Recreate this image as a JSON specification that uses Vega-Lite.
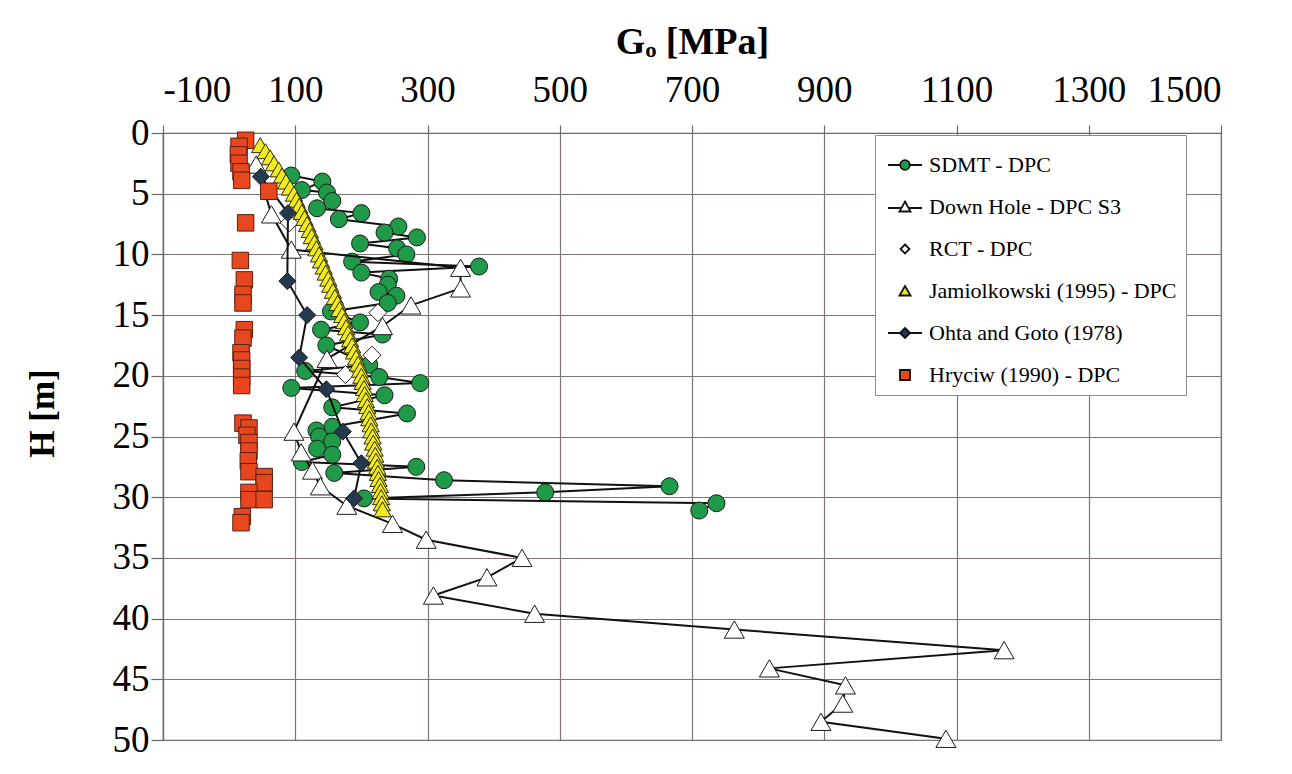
{
  "$schema": "https://vega.github.io/schema/vega-lite/v6.json",
  "width": 1058,
  "height": 607,
  "autosize": "none",
  "padding": {"left": 163, "top": 133, "right": 71, "bottom": 34},
  "background": "white",
  "config": {
    "font": "Liberation Serif",
    "view": {"stroke": "#6f6666", "strokeWidth": 1.2},
    "legend": {"labelFont": "Liberation Serif", "labelFontSize": 22, "labelColor": "black"},
    "axis": {
      "labelFont": "Liberation Serif",
      "labelColor": "black",
      "titleFont": "Liberation Serif",
      "titleColor": "black",
      "titleFontWeight": "bold",
      "gridColor": "#7f7474",
      "gridWidth": 1.2,
      "gridOpacity": 1,
      "tickColor": "#6f6666",
      "domainColor": "#6f6666",
      "tickWidth": 1.2,
      "domainWidth": 1.2
    }
  },
  "data": {
    "values": [
      {"s": "SDMT - DPC", "H": 3.5, "G": 94},
      {"s": "SDMT - DPC", "H": 4.0, "G": 141},
      {"s": "SDMT - DPC", "H": 4.7, "G": 110},
      {"s": "SDMT - DPC", "H": 4.9, "G": 148},
      {"s": "SDMT - DPC", "H": 5.6, "G": 156},
      {"s": "SDMT - DPC", "H": 6.2, "G": 133},
      {"s": "SDMT - DPC", "H": 6.6, "G": 200},
      {"s": "SDMT - DPC", "H": 7.1, "G": 166},
      {"s": "SDMT - DPC", "H": 7.7, "G": 256},
      {"s": "SDMT - DPC", "H": 8.2, "G": 235},
      {"s": "SDMT - DPC", "H": 8.6, "G": 284},
      {"s": "SDMT - DPC", "H": 9.1, "G": 198},
      {"s": "SDMT - DPC", "H": 9.5, "G": 254},
      {"s": "SDMT - DPC", "H": 10.0, "G": 268},
      {"s": "SDMT - DPC", "H": 10.6, "G": 186},
      {"s": "SDMT - DPC", "H": 11.0, "G": 378},
      {"s": "SDMT - DPC", "H": 11.5, "G": 200},
      {"s": "SDMT - DPC", "H": 12.0, "G": 242},
      {"s": "SDMT - DPC", "H": 12.5, "G": 240},
      {"s": "SDMT - DPC", "H": 13.1, "G": 226},
      {"s": "SDMT - DPC", "H": 13.4, "G": 253},
      {"s": "SDMT - DPC", "H": 14.0, "G": 240},
      {"s": "SDMT - DPC", "H": 14.7, "G": 154},
      {"s": "SDMT - DPC", "H": 15.6, "G": 198},
      {"s": "SDMT - DPC", "H": 16.2, "G": 139},
      {"s": "SDMT - DPC", "H": 16.6, "G": 232},
      {"s": "SDMT - DPC", "H": 17.5, "G": 147},
      {"s": "SDMT - DPC", "H": 19.1, "G": 212},
      {"s": "SDMT - DPC", "H": 19.6, "G": 115},
      {"s": "SDMT - DPC", "H": 20.1, "G": 227},
      {"s": "SDMT - DPC", "H": 20.6, "G": 289},
      {"s": "SDMT - DPC", "H": 21.0, "G": 94},
      {"s": "SDMT - DPC", "H": 21.6, "G": 235},
      {"s": "SDMT - DPC", "H": 22.6, "G": 156},
      {"s": "SDMT - DPC", "H": 23.1, "G": 269},
      {"s": "SDMT - DPC", "H": 24.2, "G": 156},
      {"s": "SDMT - DPC", "H": 24.5, "G": 132},
      {"s": "SDMT - DPC", "H": 25.0, "G": 136},
      {"s": "SDMT - DPC", "H": 25.4, "G": 156},
      {"s": "SDMT - DPC", "H": 26.0, "G": 133},
      {"s": "SDMT - DPC", "H": 26.5, "G": 156},
      {"s": "SDMT - DPC", "H": 27.1, "G": 110},
      {"s": "SDMT - DPC", "H": 27.5, "G": 283},
      {"s": "SDMT - DPC", "H": 28.0, "G": 159},
      {"s": "SDMT - DPC", "H": 28.6, "G": 325},
      {"s": "SDMT - DPC", "H": 29.1, "G": 666},
      {"s": "SDMT - DPC", "H": 29.6, "G": 478},
      {"s": "SDMT - DPC", "H": 30.1, "G": 204},
      {"s": "SDMT - DPC", "H": 30.5, "G": 737},
      {"s": "SDMT - DPC", "H": 31.1, "G": 711},

      {"s": "Down Hole - DPC S3", "H": 2.6, "G": 41},
      {"s": "Down Hole - DPC S3", "H": 6.7, "G": 64},
      {"s": "Down Hole - DPC S3", "H": 9.6, "G": 94},
      {"s": "Down Hole - DPC S3", "H": 11.1, "G": 350},
      {"s": "Down Hole - DPC S3", "H": 12.8, "G": 350},
      {"s": "Down Hole - DPC S3", "H": 14.2, "G": 275},
      {"s": "Down Hole - DPC S3", "H": 15.9, "G": 232},
      {"s": "Down Hole - DPC S3", "H": 18.6, "G": 148},
      {"s": "Down Hole - DPC S3", "H": 24.6, "G": 98},
      {"s": "Down Hole - DPC S3", "H": 26.3, "G": 109},
      {"s": "Down Hole - DPC S3", "H": 27.8, "G": 126},
      {"s": "Down Hole - DPC S3", "H": 29.1, "G": 138},
      {"s": "Down Hole - DPC S3", "H": 30.7, "G": 178},
      {"s": "Down Hole - DPC S3", "H": 32.2, "G": 247},
      {"s": "Down Hole - DPC S3", "H": 33.5, "G": 298},
      {"s": "Down Hole - DPC S3", "H": 35.0, "G": 443},
      {"s": "Down Hole - DPC S3", "H": 36.6, "G": 390},
      {"s": "Down Hole - DPC S3", "H": 38.1, "G": 309},
      {"s": "Down Hole - DPC S3", "H": 39.6, "G": 462},
      {"s": "Down Hole - DPC S3", "H": 40.9, "G": 764},
      {"s": "Down Hole - DPC S3", "H": 42.6, "G": 1172},
      {"s": "Down Hole - DPC S3", "H": 44.1, "G": 817},
      {"s": "Down Hole - DPC S3", "H": 45.5, "G": 932},
      {"s": "Down Hole - DPC S3", "H": 47.0, "G": 928},
      {"s": "Down Hole - DPC S3", "H": 48.5, "G": 895},
      {"s": "Down Hole - DPC S3", "H": 49.9, "G": 1084},

      {"s": "RCT - DPC", "H": 7.4, "G": 91},
      {"s": "RCT - DPC", "H": 14.8, "G": 225},
      {"s": "RCT - DPC", "H": 18.3, "G": 216},
      {"s": "RCT - DPC", "H": 19.9, "G": 176},

      {"s": "Jamiolkowski (1995) - DPC", "H": 1.0, "G": 47},
      {"s": "Jamiolkowski (1995) - DPC", "H": 1.5, "G": 55},
      {"s": "Jamiolkowski (1995) - DPC", "H": 2.0, "G": 62},
      {"s": "Jamiolkowski (1995) - DPC", "H": 2.5, "G": 68},
      {"s": "Jamiolkowski (1995) - DPC", "H": 3.0, "G": 75},
      {"s": "Jamiolkowski (1995) - DPC", "H": 3.5, "G": 80},
      {"s": "Jamiolkowski (1995) - DPC", "H": 4.0, "G": 86},
      {"s": "Jamiolkowski (1995) - DPC", "H": 4.5, "G": 92},
      {"s": "Jamiolkowski (1995) - DPC", "H": 5.0, "G": 98},
      {"s": "Jamiolkowski (1995) - DPC", "H": 5.5, "G": 102},
      {"s": "Jamiolkowski (1995) - DPC", "H": 6.0, "G": 106},
      {"s": "Jamiolkowski (1995) - DPC", "H": 6.5, "G": 110},
      {"s": "Jamiolkowski (1995) - DPC", "H": 7.0, "G": 114},
      {"s": "Jamiolkowski (1995) - DPC", "H": 7.5, "G": 118},
      {"s": "Jamiolkowski (1995) - DPC", "H": 8.0, "G": 122},
      {"s": "Jamiolkowski (1995) - DPC", "H": 8.5, "G": 125},
      {"s": "Jamiolkowski (1995) - DPC", "H": 9.0, "G": 129},
      {"s": "Jamiolkowski (1995) - DPC", "H": 9.5, "G": 132},
      {"s": "Jamiolkowski (1995) - DPC", "H": 10.0, "G": 136},
      {"s": "Jamiolkowski (1995) - DPC", "H": 10.5, "G": 139},
      {"s": "Jamiolkowski (1995) - DPC", "H": 11.0, "G": 143},
      {"s": "Jamiolkowski (1995) - DPC", "H": 11.5, "G": 146},
      {"s": "Jamiolkowski (1995) - DPC", "H": 12.0, "G": 150},
      {"s": "Jamiolkowski (1995) - DPC", "H": 12.5, "G": 153},
      {"s": "Jamiolkowski (1995) - DPC", "H": 13.0, "G": 157},
      {"s": "Jamiolkowski (1995) - DPC", "H": 13.5, "G": 160},
      {"s": "Jamiolkowski (1995) - DPC", "H": 14.0, "G": 164},
      {"s": "Jamiolkowski (1995) - DPC", "H": 14.5, "G": 167},
      {"s": "Jamiolkowski (1995) - DPC", "H": 15.0, "G": 171},
      {"s": "Jamiolkowski (1995) - DPC", "H": 15.5, "G": 174},
      {"s": "Jamiolkowski (1995) - DPC", "H": 16.0, "G": 177},
      {"s": "Jamiolkowski (1995) - DPC", "H": 16.5, "G": 180},
      {"s": "Jamiolkowski (1995) - DPC", "H": 17.0, "G": 183},
      {"s": "Jamiolkowski (1995) - DPC", "H": 17.5, "G": 186},
      {"s": "Jamiolkowski (1995) - DPC", "H": 18.0, "G": 189},
      {"s": "Jamiolkowski (1995) - DPC", "H": 18.5, "G": 192},
      {"s": "Jamiolkowski (1995) - DPC", "H": 19.0, "G": 195},
      {"s": "Jamiolkowski (1995) - DPC", "H": 19.5, "G": 198},
      {"s": "Jamiolkowski (1995) - DPC", "H": 20.0, "G": 200},
      {"s": "Jamiolkowski (1995) - DPC", "H": 20.5, "G": 202},
      {"s": "Jamiolkowski (1995) - DPC", "H": 21.0, "G": 204},
      {"s": "Jamiolkowski (1995) - DPC", "H": 21.5, "G": 205},
      {"s": "Jamiolkowski (1995) - DPC", "H": 22.0, "G": 207},
      {"s": "Jamiolkowski (1995) - DPC", "H": 22.5, "G": 209},
      {"s": "Jamiolkowski (1995) - DPC", "H": 23.0, "G": 211},
      {"s": "Jamiolkowski (1995) - DPC", "H": 23.5, "G": 212},
      {"s": "Jamiolkowski (1995) - DPC", "H": 24.0, "G": 214},
      {"s": "Jamiolkowski (1995) - DPC", "H": 24.5, "G": 215},
      {"s": "Jamiolkowski (1995) - DPC", "H": 25.0, "G": 217},
      {"s": "Jamiolkowski (1995) - DPC", "H": 25.5, "G": 218},
      {"s": "Jamiolkowski (1995) - DPC", "H": 26.0, "G": 220},
      {"s": "Jamiolkowski (1995) - DPC", "H": 26.5, "G": 221},
      {"s": "Jamiolkowski (1995) - DPC", "H": 27.0, "G": 222},
      {"s": "Jamiolkowski (1995) - DPC", "H": 27.5, "G": 224},
      {"s": "Jamiolkowski (1995) - DPC", "H": 28.0, "G": 225},
      {"s": "Jamiolkowski (1995) - DPC", "H": 28.5, "G": 226},
      {"s": "Jamiolkowski (1995) - DPC", "H": 29.0, "G": 228},
      {"s": "Jamiolkowski (1995) - DPC", "H": 29.5, "G": 229},
      {"s": "Jamiolkowski (1995) - DPC", "H": 30.0, "G": 230},
      {"s": "Jamiolkowski (1995) - DPC", "H": 30.5, "G": 231},
      {"s": "Jamiolkowski (1995) - DPC", "H": 31.0, "G": 232},

      {"s": "Ohta and Goto (1978)", "H": 3.6, "G": 48},
      {"s": "Ohta and Goto (1978)", "H": 6.6, "G": 89},
      {"s": "Ohta and Goto (1978)", "H": 12.2, "G": 88},
      {"s": "Ohta and Goto (1978)", "H": 15.0, "G": 118},
      {"s": "Ohta and Goto (1978)", "H": 18.5, "G": 106},
      {"s": "Ohta and Goto (1978)", "H": 21.1, "G": 147},
      {"s": "Ohta and Goto (1978)", "H": 24.6, "G": 172},
      {"s": "Ohta and Goto (1978)", "H": 27.2, "G": 200},
      {"s": "Ohta and Goto (1978)", "H": 30.1, "G": 189},

      {"s": "Hryciw (1990) - DPC", "H": 0.6, "G": 25},
      {"s": "Hryciw (1990) - DPC", "H": 1.1, "G": 15},
      {"s": "Hryciw (1990) - DPC", "H": 1.8, "G": 14},
      {"s": "Hryciw (1990) - DPC", "H": 2.5, "G": 15},
      {"s": "Hryciw (1990) - DPC", "H": 3.2, "G": 18},
      {"s": "Hryciw (1990) - DPC", "H": 3.9, "G": 19},
      {"s": "Hryciw (1990) - DPC", "H": 4.8, "G": 60},
      {"s": "Hryciw (1990) - DPC", "H": 7.4, "G": 25},
      {"s": "Hryciw (1990) - DPC", "H": 10.5, "G": 17},
      {"s": "Hryciw (1990) - DPC", "H": 12.1, "G": 23},
      {"s": "Hryciw (1990) - DPC", "H": 13.3, "G": 21},
      {"s": "Hryciw (1990) - DPC", "H": 14.0, "G": 21},
      {"s": "Hryciw (1990) - DPC", "H": 16.2, "G": 23},
      {"s": "Hryciw (1990) - DPC", "H": 16.9, "G": 21},
      {"s": "Hryciw (1990) - DPC", "H": 18.1, "G": 18},
      {"s": "Hryciw (1990) - DPC", "H": 18.7, "G": 19},
      {"s": "Hryciw (1990) - DPC", "H": 19.4, "G": 19},
      {"s": "Hryciw (1990) - DPC", "H": 20.1, "G": 19},
      {"s": "Hryciw (1990) - DPC", "H": 20.8, "G": 19},
      {"s": "Hryciw (1990) - DPC", "H": 23.9, "G": 21},
      {"s": "Hryciw (1990) - DPC", "H": 24.3, "G": 30},
      {"s": "Hryciw (1990) - DPC", "H": 24.9, "G": 27},
      {"s": "Hryciw (1990) - DPC", "H": 25.5, "G": 30},
      {"s": "Hryciw (1990) - DPC", "H": 26.2, "G": 30},
      {"s": "Hryciw (1990) - DPC", "H": 27.0, "G": 29},
      {"s": "Hryciw (1990) - DPC", "H": 27.9, "G": 30},
      {"s": "Hryciw (1990) - DPC", "H": 28.3, "G": 53},
      {"s": "Hryciw (1990) - DPC", "H": 28.8, "G": 53},
      {"s": "Hryciw (1990) - DPC", "H": 29.6, "G": 30},
      {"s": "Hryciw (1990) - DPC", "H": 30.2, "G": 30},
      {"s": "Hryciw (1990) - DPC", "H": 30.2, "G": 53},
      {"s": "Hryciw (1990) - DPC", "H": 31.6, "G": 20},
      {"s": "Hryciw (1990) - DPC", "H": 32.1, "G": 18}
    ]
  },
  "encoding": {
    "x": {
      "field": "G",
      "type": "quantitative",
      "scale": {"domain": [-100, 1500], "nice": false, "zero": false},
      "axis": {
        "orient": "top",
        "title": "Gₒ [MPa]",
        "titleFontSize": 38,
        "titlePadding": 10,
        "values": [-100, 100, 300, 500, 700, 900, 1100, 1300, 1500],
        "labelExpr": "'' + datum.value",
        "labelFontSize": 37,
        "labelPadding": 16,
        "tickSize": 8,
        "grid": true
      }
    },
    "y": {
      "field": "H",
      "type": "quantitative",
      "scale": {"domain": [0, 50], "reverse": true, "nice": false, "zero": false},
      "axis": {
        "title": "H [m]",
        "titleFontSize": 35,
        "titleAngle": 270,
        "titleX": -121,
        "titleY": 280,
        "titleAlign": "center",
        "titleBaseline": "middle",
        "values": [0, 5, 10, 15, 20, 25, 30, 35, 40, 45, 50],
        "labelFontSize": 37,
        "labelPadding": 2,
        "tickSize": 12,
        "grid": true
      }
    }
  },
  "layer": [
    {
      "transform": [{"filter": {"field": "s", "equal": "SDMT - DPC"}}],
      "mark": {"type": "line", "color": "#111111", "strokeWidth": 2},
      "encoding": {"order": {"field": "H", "type": "quantitative"}}
    },
    {
      "transform": [{"filter": {"field": "s", "equal": "SDMT - DPC"}}],
      "mark": {"type": "point", "shape": "circle", "size": 289, "filled": true, "opacity": 1, "stroke": "#1c1c1c", "strokeWidth": 1},
      "encoding": {
        "fill": {
          "field": "s",
          "type": "nominal",
          "scale": {
            "domain": ["SDMT - DPC", "Down Hole - DPC S3", "RCT - DPC", "Jamiolkowski (1995) - DPC", "Ohta and Goto (1978)", "Hryciw (1990) - DPC"],
            "range": ["#1f9a48", "#ffffff", "#ffffff", "#f2ea1c", "#243850", "#e8461e"]
          },
          "legend": {
            "title": null,
            "orient": "none",
            "legendX": 712,
            "legendY": 2,
            "fillColor": "white",
            "strokeColor": "#8c8c8c",
            "padding": 9,
            "labelFont": "Liberation Serif",
            "labelFontSize": 22,
            "labelColor": "black",
            "labelLimit": 400,
            "labelOffset": 3,
            "symbolSize": 1600,
            "symbolStrokeColor": "#111111",
            "symbolStrokeWidth": 1.8,
            "symbolOpacity": 1,
            "rowPadding": 10,
            "encode": {
              "labels": {
                "update": {
                  "font": {"value": "Liberation Serif"},
                  "fontSize": {"value": 22},
                  "fill": {"value": "black"}
                }
              },
              "symbols": {
                "update": {
                  "shape": {"signal": "datum.value === 'SDMT - DPC' ? 'M-0.85,0H-0.24M0.24,0H0.85M0.24,0A0.24,0.24,0,1,1,-0.24,0A0.24,0.24,0,1,1,0.24,0Z' : datum.value === 'Down Hole - DPC S3' ? 'M-0.85,0.05H-0.2M0.2,0.05H0.85M0,-0.275L0.275,0.225L-0.275,0.225Z' : datum.value === 'RCT - DPC' ? 'M0,-0.225L0.225,0L0,0.225L-0.225,0Z' : datum.value === 'Jamiolkowski (1995) - DPC' ? 'M0,-0.25L0.275,0.225L-0.275,0.225Z' : datum.value === 'Ohta and Goto (1978)' ? 'M-0.85,0H-0.25M0.25,0H0.85M0,-0.25L0.25,0L0,0.25L-0.25,0Z' : 'M-0.25,-0.25H0.25V0.25H-0.25Z'"},
                  "size": {"value": 1600},
                  "stroke": {"value": "#111111"},
                  "strokeWidth": {"value": 1.8},
                  "opacity": {"value": 1}
                }
              }
            }
          }
        }
      }
    },
    {
      "transform": [{"filter": {"field": "s", "equal": "Down Hole - DPC S3"}}],
      "mark": {"type": "line", "color": "#111111", "strokeWidth": 2},
      "encoding": {"order": {"field": "H", "type": "quantitative"}}
    },
    {
      "transform": [{"filter": {"field": "s", "equal": "Down Hole - DPC S3"}}],
      "mark": {"type": "point", "shape": "triangle-up", "size": 400, "filled": true, "opacity": 1, "stroke": "#1c1c1c", "strokeWidth": 1},
      "encoding": {"fill": {"field": "s", "type": "nominal"}}
    },
    {
      "transform": [{"filter": {"field": "s", "equal": "RCT - DPC"}}],
      "mark": {"type": "point", "shape": "diamond", "size": 324, "filled": true, "opacity": 1, "stroke": "#1c1c1c", "strokeWidth": 1},
      "encoding": {"fill": {"field": "s", "type": "nominal"}}
    },
    {
      "transform": [{"filter": {"field": "s", "equal": "Jamiolkowski (1995) - DPC"}}],
      "mark": {"type": "point", "shape": "triangle-up", "size": 300, "filled": true, "opacity": 1, "stroke": "#2a2a10", "strokeWidth": 1},
      "encoding": {"fill": {"field": "s", "type": "nominal"}}
    },
    {
      "transform": [{"filter": {"field": "s", "equal": "Ohta and Goto (1978)"}}],
      "mark": {"type": "line", "color": "#111111", "strokeWidth": 2},
      "encoding": {"order": {"field": "H", "type": "quantitative"}}
    },
    {
      "transform": [{"filter": {"field": "s", "equal": "Ohta and Goto (1978)"}}],
      "mark": {"type": "point", "shape": "diamond", "size": 289, "filled": true, "opacity": 1, "stroke": "#1c1c1c", "strokeWidth": 1},
      "encoding": {"fill": {"field": "s", "type": "nominal"}}
    },
    {
      "transform": [{"filter": {"field": "s", "equal": "Hryciw (1990) - DPC"}}],
      "mark": {"type": "point", "shape": "square", "size": 272, "filled": true, "opacity": 1, "stroke": "#5a2010", "strokeWidth": 1},
      "encoding": {"fill": {"field": "s", "type": "nominal"}}
    }
  ]
}
